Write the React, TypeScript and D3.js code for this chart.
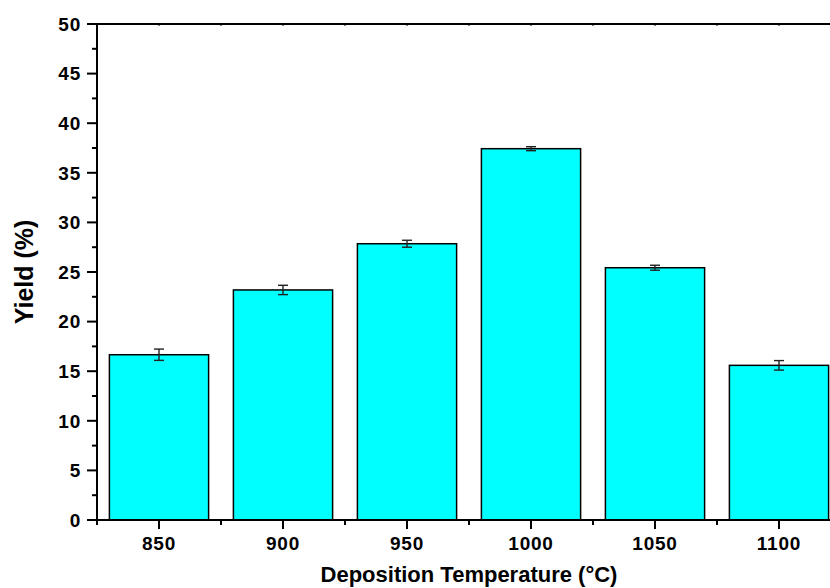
import React from "react";
import * as d3 from "d3";

const temps = ["850", "900", "950", "1000", "1050", "1100"];
const yieldVals = [16.66, 23.19, 27.85, 37.43, 25.43, 15.59];
const yieldErr = [0.57, 0.47, 0.35, 0.2, 0.25, 0.48];
const yTicks = [0, 5, 10, 15, 20, 25, 30, 35, 40, 45, 50];

const W = 830;
const H = 588;
const left = 97;
const right = 841;
const top = 24;
const bottom = 520;
const font = "'Liberation Sans', Arial, Helvetica, sans-serif";

export default function App() {
    React.useEffect(() => {
        document.body.style.margin = "0";
    }, []);

    const x = d3.scaleBand<string>().domain(temps).range([left, right]).paddingInner(0.2).paddingOuter(0.1);
    // linear temperature scale for minor ticks between categories
    const xLin = d3.scaleLinear().domain([825, 1125]).range([left, right]);
    const y = d3.scaleLinear().domain([0, 50]).range([bottom, top]);

    const minorY = d3.range(2.5, 50, 5);
    const minorX = d3.range(825, 1126, 50);

    return (
        <svg width={W} height={H} style={{ display: "block", background: "#fff" }}>
            {/* bars */}
            {temps.map((t, i) => (
                <rect
                    key={t}
                    x={x(t)}
                    y={y(yieldVals[i])}
                    width={x.bandwidth()}
                    height={y(0) - y(yieldVals[i])}
                    fill="#00FFFF"
                    stroke="#000"
                    strokeWidth={1.5}
                />
            ))}
            {/* error bars */}
            {temps.map((t, i) => {
                const cx = (x(t) as number) + x.bandwidth() / 2;
                const y1 = y(yieldVals[i] + yieldErr[i]);
                const y2 = y(yieldVals[i] - yieldErr[i]);
                return (
                    <g key={"e" + t} stroke="#222" strokeWidth={1.4}>
                        <line x1={cx} x2={cx} y1={y1} y2={y2} />
                        <line x1={cx - 5} x2={cx + 5} y1={y1} y2={y1} />
                        <line x1={cx - 5} x2={cx + 5} y1={y2} y2={y2} />
                    </g>
                );
            })}

            {/* frame */}
            <g stroke="#000" strokeWidth={2}>
                <line x1={left} x2={left} y1={top} y2={bottom} />
                <line x1={left - 10} x2={right} y1={bottom} y2={bottom} />
                <line x1={left - 10} x2={right} y1={top} y2={top} />
            </g>

            {/* y ticks */}
            {yTicks.map(v => (
                <g key={"y" + v}>
                    <line x1={left - 10} x2={left} y1={y(v)} y2={y(v)} stroke="#000" strokeWidth={2} />
                    <text
                        x={left - 16}
                        y={y(v)}
                        dy="0.36em"
                        textAnchor="end"
                        fontFamily={font}
                        fontWeight="bold"
                        fontSize={19}
                        letterSpacing={0.8}
                    >
                        {v}
                    </text>
                </g>
            ))}
            {minorY.map(v => (
                <line key={"my" + v} x1={left - 5} x2={left} y1={y(v)} y2={y(v)} stroke="#000" strokeWidth={2} />
            ))}

            {/* x ticks */}
            {temps.map(t => {
                const cx = (x(t) as number) + x.bandwidth() / 2;
                return (
                    <g key={"x" + t}>
                        <line x1={cx} x2={cx} y1={bottom} y2={bottom + 9} stroke="#000" strokeWidth={2} />
                        <line x1={cx} x2={cx} y1={top} y2={top + 2} stroke="#000" strokeWidth={1} />
                        <text
                            x={cx}
                            y={550}
                            textAnchor="middle"
                            fontFamily={font}
                            fontWeight="bold"
                            fontSize={19}
                            letterSpacing={0.8}
                        >
                            {t}
                        </text>
                    </g>
                );
            })}
            {minorX.map(v => (
                <g key={"mx" + v}>
                    <line x1={xLin(v)} x2={xLin(v)} y1={bottom} y2={bottom + 5} stroke="#000" strokeWidth={2} />
                    <line x1={xLin(v)} x2={xLin(v)} y1={top} y2={top + 2} stroke="#000" strokeWidth={1} />
                </g>
            ))}

            {/* axis titles */}
            <text
                x={(left + right) / 2}
                y={582}
                textAnchor="middle"
                fontFamily={font}
                fontWeight="bold"
                fontSize={22}
            >
                Deposition Temperature (°C)
            </text>
            <text
                transform={`translate(33, ${(top + bottom) / 2}) rotate(-90)`}
                textAnchor="middle"
                fontFamily={font}
                fontWeight="bold"
                fontSize={25}
            >
                Yield (%)
            </text>
        </svg>
    );
}
